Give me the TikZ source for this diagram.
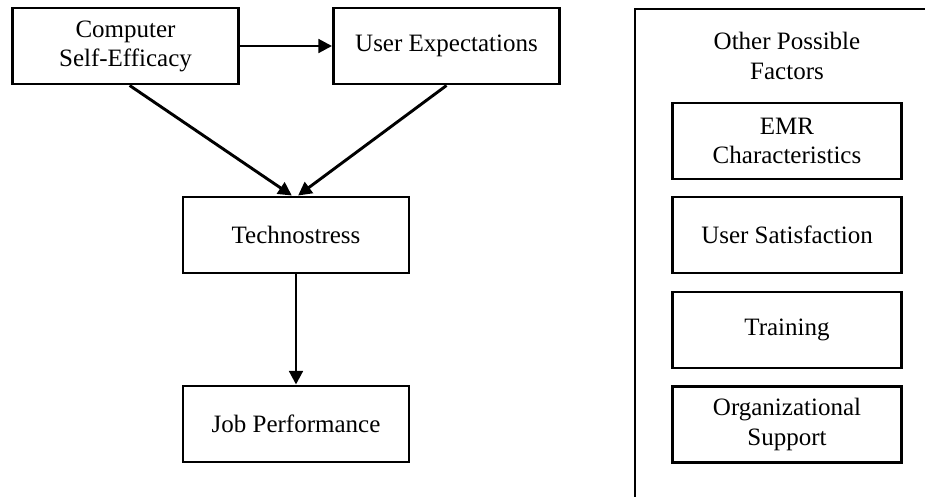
\documentclass[tikz,border=0pt]{standalone}
\usepackage{fontspec}
\setmainfont{Liberation Serif}
\usetikzlibrary{arrows.meta}

\begin{document}
\begin{tikzpicture}[x=0.48pt,y=-0.48pt,
    box/.style={draw,line width=1.4pt,minimum width=108.5pt,minimum height=36.5pt,
      align=center,inner sep=0pt,font=\fontsize{12}{14}\selectfont},
    link/.style={line width=1.4pt,-{Triangle[length=6.5pt,width=6.5pt]}}]
    \useasboundingbox (0,0) rectangle (925,497);
    % main model
    \node[box] (cse) at (125.5,46){Computer\\Self-Efficacy};
    \node[box] (ue) at (446.5,46){User Expectations};
    \node[box] (tech) at (296,235){Technostress};
    \node[box] (jp) at (296,424){Job Performance};
    \draw[link] (cse.east) -- (ue.west);
    \draw[link] ([xshift=2pt]cse.south) -- ([xshift=-2pt]tech.north);
    \draw[link] (ue.south) -- ([xshift=1pt]tech.north);
    \draw[link] (tech.south) -- (jp.north);
    % other factors
    \draw[line width=1.4pt] (925,9) -- (635,9) -- (635,497);
    \node[align=center,font=\fontsize{12}{14}\selectfont] (other) at (787,56){Other Possible\\Factors};
    \node[box,minimum width=109.5pt] (emr) at (787,141){EMR\\Characteristics};
    \node[box,minimum width=109.5pt] (us) at (787,235){User Satisfaction};
    \node[box,minimum width=109.5pt] (tr) at (787,330){Training};
    \node[box,minimum width=109.5pt] (os) at (787,424.5){Organizational\\Support};
\end{tikzpicture}
\end{document}
